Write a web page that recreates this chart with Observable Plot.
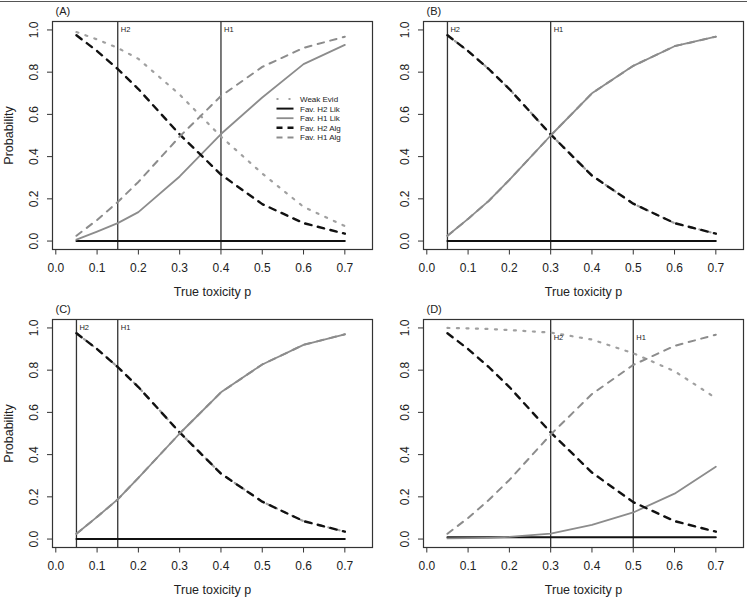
<!DOCTYPE html>
<html>
<head>
<meta charset="utf-8">
<script src="https://cdn.jsdelivr.net/npm/d3@7"></script>
<script src="https://cdn.jsdelivr.net/npm/@observablehq/plot@0.6"></script>
<style>
  html, body { margin: 0; padding: 0; background: #fff; }
  #root { position: relative; width: 750px; height: 602px; overflow: hidden; font-family: "Liberation Sans", Arial, sans-serif; }
  #root > .panel { position: absolute; }
  #topline { position: absolute; left: 0; top: 1px; width: 747px; height: 0; border-top: 1.5px solid #555; }
  #legend { position: absolute; left: 0; top: 0; }
</style>
</head>
<body>
<div id="root"><div id="topline"></div></div>
<script>
// ---- data ----
const p = [0.05, 0.1, 0.15, 0.2, 0.3, 0.4, 0.5, 0.6, 0.7];
const xTicks = [0, 0.1, 0.2, 0.3, 0.4, 0.5, 0.6, 0.7];
const yTicks = [0, 0.2, 0.4, 0.6, 0.8, 1.0];
const seriesNames = ["Weak Evid", "Fav. H2 Lik", "Fav. H1 Lik", "Fav. H2 Alg", "Fav. H1 Alg"];
const panelLabels = ["(A)", "(B)", "(C)", "(D)"];

// Panel A
const weakA  = [0.99, 0.955, 0.915, 0.863, 0.694, 0.495, 0.32, 0.162, 0.071];
const h2LikA = [0, 0, 0, 0, 0, 0, 0, 0, 0];
const h1LikA = [0.007, 0.045, 0.085, 0.137, 0.306, 0.507, 0.68, 0.838, 0.929];
const h2AlgA = [0.975, 0.9, 0.815, 0.72, 0.505, 0.315, 0.175, 0.085, 0.035];
const h1AlgA = [0.025, 0.1, 0.185, 0.28, 0.495, 0.687, 0.825, 0.915, 0.968];
const hypA = [0.15, 0.4];

// Panel B
const weakB  = [0.975, 0.9, 0.815, 0.72, 0.505, 0.31, 0.177, 0.085, 0.035];
const h2LikB = [0, 0, 0, 0, 0, 0, 0, 0, 0];
const h1LikB = [0.025, 0.105, 0.19, 0.29, 0.5, 0.7, 0.83, 0.923, 0.968];
const h2AlgB = [0.975, 0.9, 0.815, 0.72, 0.505, 0.31, 0.177, 0.085, 0.035];
const h1AlgB = [0.025, 0.105, 0.19, 0.29, 0.5, 0.7, 0.83, 0.923, 0.968];
const hypB = [0.05, 0.3];

// Panel C
const weakC  = [0.975, 0.9, 0.815, 0.72, 0.505, 0.31, 0.177, 0.085, 0.035];
const h2LikC = [0, 0, 0, 0, 0, 0, 0, 0, 0];
const h1LikC = [0.025, 0.105, 0.188, 0.29, 0.5, 0.695, 0.827, 0.92, 0.97];
const h2AlgC = [0.975, 0.9, 0.815, 0.72, 0.505, 0.31, 0.177, 0.085, 0.035];
const h1AlgC = [0.025, 0.105, 0.188, 0.29, 0.5, 0.695, 0.827, 0.92, 0.97];
const hypC = [0.05, 0.15];

// Panel D
const weakD  = [1.0, 0.998, 0.995, 0.99, 0.978, 0.945, 0.88, 0.795, 0.668];
const h2LikD = [0.008, 0.008, 0.008, 0.008, 0.008, 0.008, 0.008, 0.008, 0.008];
const h1LikD = [0.003, 0.004, 0.006, 0.01, 0.026, 0.067, 0.126, 0.215, 0.343];
const h2AlgD = [0.975, 0.9, 0.815, 0.72, 0.505, 0.315, 0.175, 0.085, 0.035];
const h1AlgD = [0.025, 0.1, 0.185, 0.28, 0.495, 0.687, 0.825, 0.915, 0.968];
const hypD = [0.3, 0.5];

const hypNames = ["H2", "H1"];
const hypLabelY = [1.0, 1.0, 1.0, 0.955];

// ---- styles ----
const GRAY = "#8c8c8c", DOTGRAY = "#a0a0a0", BLACK = "#111";
const styles = [
  {stroke: DOTGRAY, strokeWidth: 2.2, strokeDasharray: "2,7.5"},
  {stroke: BLACK, strokeWidth: 2},
  {stroke: GRAY, strokeWidth: 1.8},
  {stroke: BLACK, strokeWidth: 2.4, strokeDasharray: "6.5,6.5"},
  {stroke: GRAY, strokeWidth: 2, strokeDasharray: "6.5,6.5"}
];

const panels = [
  {series: [weakA, h2LikA, h1LikA, h2AlgA, h1AlgA], hyp: hypA, ylabel: true, left: 0, top: 0},
  {series: [weakB, h2LikB, h1LikB, h2AlgB, h1AlgB], hyp: hypB, ylabel: false, left: 371, top: 0},
  {series: [weakC, h2LikC, h1LikC, h2AlgC, h1AlgC], hyp: hypC, ylabel: true, left: 0, top: 298},
  {series: [weakD, h2LikD, h1LikD, h2AlgD, h1AlgD], hyp: hypD, ylabel: false, left: 371, top: 298}
];

const FONT = "Liberation Sans, Arial, sans-serif";
const root = document.getElementById("root");

panels.forEach((pan, k) => {
  const lineMarks = pan.series.map((vals, s) =>
    Plot.line(p.map((pp, i) => ({p: pp, v: vals[i]})), {x: "p", y: "v", ...styles[s]})
  );
  const hypRows = pan.hyp.map((x, i) => ({x, name: hypNames[i], y: hypLabelY[k]}));
  const marks = [
    Plot.ruleX(hypRows, {x: "x", stroke: "#333", strokeWidth: 1.3}),
    ...lineMarks,
    Plot.text(hypRows, {x: "x", y: "y", text: "name", dx: 3, textAnchor: "start", lineAnchor: "middle", fontSize: 7.5, fill: "#222"}),
    Plot.frame({stroke: "#333", strokeWidth: 1.2}),
    Plot.axisX({ticks: xTicks, tickFormat: d3.format(".1f"), tickSize: 5.5, tickPadding: 8.5, fontSize: 12, label: null, stroke: "#333", fill: "#222"}),
    Plot.axisY({ticks: yTicks, tickFormat: d3.format(".1f"), tickSize: 5, tickPadding: 9.7, tickRotate: -90, textAnchor: "middle", lineAnchor: "bottom", fontSize: 12, label: null, stroke: "#333", fill: "#222"}),
    Plot.text(["True toxicity p"], {text: d => d, frameAnchor: "bottom", lineAnchor: "bottom", dy: 46.7, fontSize: 12.5, fill: "#222"}),
    Plot.text([panelLabels[k]], {text: d => d, frameAnchor: "top-left", textAnchor: "start", lineAnchor: "bottom", dx: 3, dy: -6.6, fontSize: 11, fill: "#222"})
  ];
  if (pan.ylabel) {
    marks.push(Plot.text(["Probability"], {text: d => d, frameAnchor: "left", rotate: -90, textAnchor: "middle", lineAnchor: "bottom", dx: -39.6, fontSize: 12.5, fill: "#222"}));
  }
  const chart = Plot.plot({
    width: 375, height: 300,
    marginLeft: 52, marginRight: 3, marginTop: 21, marginBottom: 51,
    style: {fontFamily: FONT, background: "transparent", overflow: "visible"},
    x: {domain: [-0.008, 0.767]},
    y: {domain: [-0.04, 1.04]},
    marks
  });
  chart.classList.add("panel");
  chart.style.left = pan.left + "px";
  chart.style.top = pan.top + "px";
  root.appendChild(chart);
});

// ---- legend (panel A) ----
const ns = "http://www.w3.org/2000/svg";
const leg = document.createElementNS(ns, "svg");
leg.setAttribute("id", "legend");
leg.setAttribute("width", 375);
leg.setAttribute("height", 300);
leg.style.left = "0px"; leg.style.top = "0px"; leg.style.position = "absolute";
seriesNames.forEach((name, i) => {
  const y = 99 + i * 9.6;
  const ln = document.createElementNS(ns, "line");
  ln.setAttribute("x1", 276.5); ln.setAttribute("x2", 293.5);
  ln.setAttribute("y1", y); ln.setAttribute("y2", y);
  ln.setAttribute("stroke", styles[i].stroke);
  ln.setAttribute("stroke-width", styles[i].strokeWidth);
  if (i === 0) ln.setAttribute("stroke-dasharray", "2,10");
  else if (styles[i].strokeDasharray) ln.setAttribute("stroke-dasharray", "6,5");
  leg.appendChild(ln);
  const t = document.createElementNS(ns, "text");
  t.setAttribute("x", 300); t.setAttribute("y", y + 2.9);
  t.setAttribute("font-size", 8); t.setAttribute("font-family", FONT);
  t.setAttribute("fill", "#222");
  t.textContent = name;
  leg.appendChild(t);
});
root.appendChild(leg);
</script>
</body>
</html>
